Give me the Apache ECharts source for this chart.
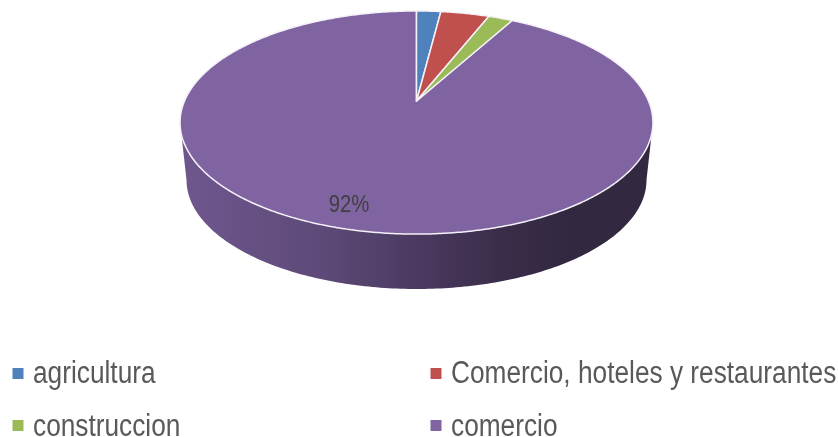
<!DOCTYPE html>
<html lang="en">
<head>
    <meta charset="UTF-8">
    <title>Pie</title>
    <style>
        html, body { margin: 0; padding: 0; background: #fff; }
    </style>
</head>
<body>
<div id="main" style="width: 838px;height:437px;"></div>
<script src="https://cdn.jsdelivr.net/npm/echarts@6/dist/echarts.min.js"></script>
<script type="text/javascript">
    var categories = ['agricultura', 'Comercio, hoteles y restaurantes', 'construccion', 'comercio'];
    var values = [2, 4, 2, 92];
    var colors = ['#4F81BD', '#C0504D', '#9BBB59', '#8064A2'];

    // no narrow font installed, so squeeze Liberation Sans sideways
    var FONT = '"Liberation Sans", sans-serif';
    var NARROW = 0.847;

    // tilted disc: the apex is above the middle of the ellipse, so map the circle with a perspective
    var apexX = 416.5, apexY = 101, tilt = 0.193, scaleX = 232, scaleY = 107.4;
    // lower rim of the wall
    var rimX = 416.5, rimY = 180, rimRx = 230, rimRy = 109;

    var total = 0;
    values.forEach(function (v) { total += v; });

    function topPoint(deg) {
        var a = deg * Math.PI / 180;
        var k = 1 + tilt * Math.cos(a);
        return [apexX + scaleX * Math.sin(a) / k, apexY - scaleY * Math.cos(a) / k];
    }

    function slicePoints(from, to) {
        var pts = [[apexX, apexY]];
        var n = Math.ceil((to - from) * 2);
        for (var i = 0; i <= n; i++) {
            pts.push(topPoint(from + (to - from) * i / n));
        }
        return pts;
    }

    function wallPoints() {
        var pts = [], i, a;
        // along the front of the top edge, right to left
        for (i = 107; i <= 253; i++) {
            pts.push(topPoint(i));
        }
        // back along the bottom rim, left to right
        for (i = 180; i >= 0; i--) {
            a = i * Math.PI / 180;
            pts.push([rimX + rimRx * Math.cos(a), rimY + rimRy * Math.sin(a)]);
        }
        return pts;
    }

    function makeRender(index) {
        return function () {
            var from = 0;
            for (var i = 0; i < index; i++) {
                from += values[i] / total * 360;
            }
            var to = from + values[index] / total * 360;
            var children = [];
            if (index === values.length - 1) {
                children.push({
                    type: 'polygon',
                    shape: { points: wallPoints() },
                    style: {
                        fill: new echarts.graphic.LinearGradient(0, 0, 1, 0, [
                            { offset: 0, color: '#6f578e' },
                            { offset: 0.3, color: '#5d4a78' },
                            { offset: 0.5, color: '#4a3a60' },
                            { offset: 0.68, color: '#3b2d4a' },
                            { offset: 0.82, color: '#322840' },
                            { offset: 1, color: '#322840' }
                        ])
                    }
                });
            }
            children.push({
                type: 'polygon',
                shape: { points: slicePoints(from, to) },
                style: { fill: colors[index], stroke: '#f4f1f8', lineWidth: 1.5, lineJoin: 'round' }
            });
            if (values[index] === 92) {
                children.push({
                    type: 'text',
                    x: 349,
                    y: 205.5,
                    scaleX: NARROW,
                    style: {
                        text: Math.round(values[index] / total * 100) + '%',
                        fill: '#404040',
                        font: '24px ' + FONT,
                        align: 'center',
                        verticalAlign: 'middle'
                    }
                });
            }
            return { type: 'group', children: children };
        };
    }

    // purple goes first so its wall sits under everything else
    var series = [];
    [3, 0, 1, 2].forEach(function (i) {
        series.push({
            name: categories[i],
            type: 'custom',
            coordinateSystem: 'none',
            silent: true,
            itemStyle: { color: colors[i] },
            renderItem: makeRender(i),
            data: [values[i]]
        });
    });

    function legendAt(left, names) {
        return {
            orient: 'vertical',
            left: left,
            top: 368,
            height: 69,
            padding: 0,
            itemWidth: 11,
            itemHeight: 11,
            itemGap: 41,
            icon: 'rect',
            selectedMode: false,
            data: names,
            formatter: function () { return ''; }
        };
    }

    function legendText(name, x, y) {
        return {
            type: 'text',
            x: x,
            y: y,
            scaleX: NARROW,
            style: {
                text: name,
                fill: '#595959',
                font: '31px ' + FONT,
                align: 'left',
                verticalAlign: 'middle'
            }
        };
    }

    var mychart = echarts.init(document.getElementById('main'));
    mychart.setOption({
        animation: false,
        legend: [
            legendAt(12.5, [categories[0], categories[2]]),
            legendAt(430.5, [categories[1], categories[3]])
        ],
        graphic: [
            legendText(categories[0], 33, 374.5),
            legendText(categories[2], 33, 427),
            legendText(categories[1], 451, 374.5),
            legendText(categories[3], 451, 427)
        ],
        series: series
    });
</script>
</body>
</html>
